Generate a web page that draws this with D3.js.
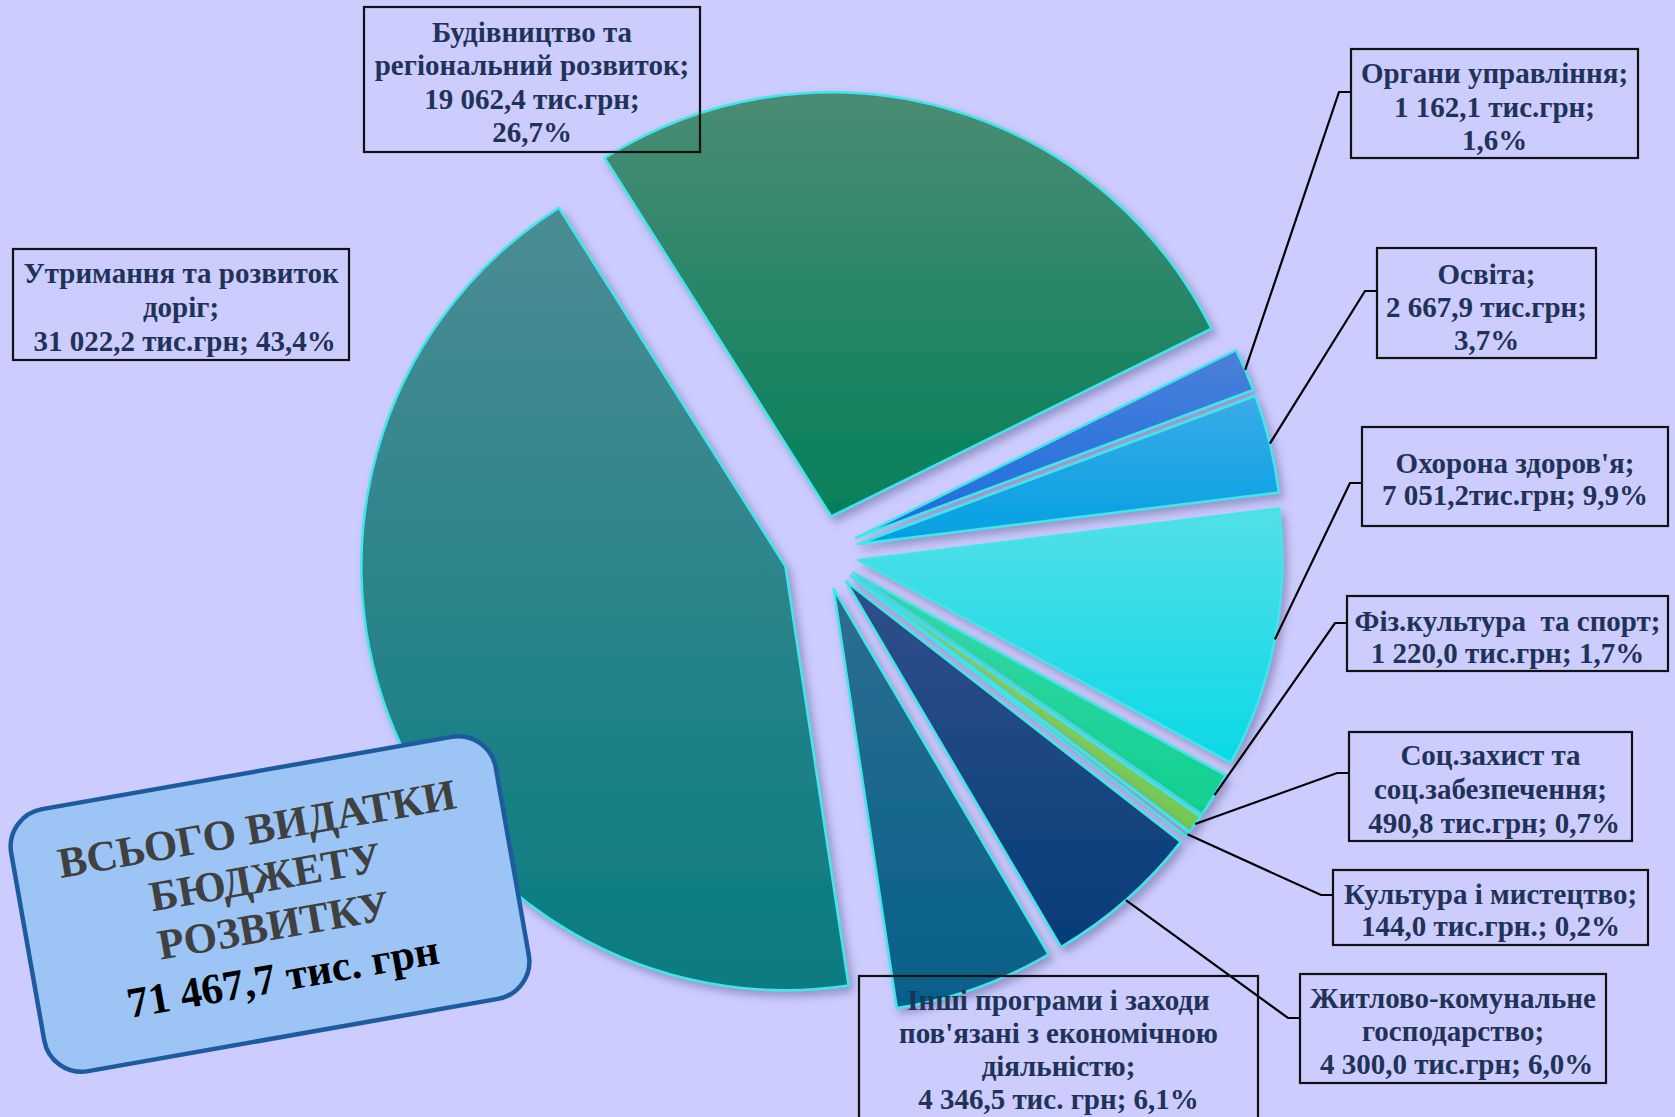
<!DOCTYPE html>
<html><head><meta charset="utf-8">
<script src="https://cdn.jsdelivr.net/npm/d3@7"></script>
<style>
html,body{margin:0;padding:0;background:#ccccfe;overflow:hidden;}
svg{display:block;}
text{white-space:pre;}
</style></head><body>
<svg id="chart" width="1675" height="1117"></svg>
<script>
// ---------- DATA ----------
const categories = [
  "Будівництво та регіональний розвиток",
  "Органи управління",
  "Освіта",
  "Охорона здоров'я",
  "Фіз.культура та спорт",
  "Соц.захист та соц.забезпечення",
  "Культура і мистецтво",
  "Житлово-комунальне господарство",
  "Інші програми і заходи пов'язані з економічною діяльністю",
  "Утримання та розвиток доріг"
];
const values = [19062.4, 1162.1, 2667.9, 7051.2, 1220.0, 490.8, 144.0, 4300.0, 4346.5, 31022.2];
const labelLines = [
  ["Будівництво та", "регіональний розвиток;", "19 062,4 тис.грн;", "26,7%"],
  ["Органи управління;", "1 162,1 тис.грн;", "1,6%"],
  ["Освіта;", "2 667,9 тис.грн;", "3,7%"],
  ["Охорона здоров'я;", "7 051,2тис.грн; 9,9%"],
  ["Фіз.культура  та спорт;", "1 220,0 тис.грн; 1,7%"],
  ["Соц.захист та", "соц.забезпечення;", " 490,8 тис.грн; 0,7%"],
  ["Культура і мистецтво;", "144,0 тис.грн.; 0,2%"],
  ["Житлово-комунальне", "господарство;", " 4 300,0 тис.грн; 6,0%"],
  ["Інші програми і заходи", "пов'язані з економічною", "діяльністю;", "4 346,5 тис. грн; 6,1%"],
  ["Утримання та розвиток", "доріг;", " 31 022,2 тис.грн; 43,4%"]
];
const hasLeader = [false, true, true, true, true, true, true, true, false, false];
const totalTitle = ["ВСЬОГО ВИДАТКИ", "БЮДЖЕТУ", "РОЗВИТКУ"];
const totalValue = "71 467,7 тис. грн";

// ---------- STYLE / LAYOUT ----------
const sliceColors = [
  ["#4a8c74", "#04805a"],
  ["#4a80d8", "#1a6fe0"],
  ["#3aabe8", "#02a0e2"],
  ["#52dfe6", "#0cd8e8"],
  ["#3ad8a8", "#10d090"],
  ["#92d070", "#74c850"],
  ["#a8a8c8", "#9a9ab8"],
  ["#31508a", "#043c78"],
  ["#2e6e90", "#05608a"],
  ["#4c8c94", "#087c80"]
];
// label boxes: [x0, y0, x1, y1, firstLineMidY, lineStep, leaderElbowY]
const boxes = [
  [364, 7, 700, 152, 32, 33.5, null],
  [1351, 49, 1638, 158, 73.5, 33.5, 92],
  [1377, 248, 1596, 358, 274, 33, 291],
  [1362, 427, 1668, 526, 463, 32, 483],
  [1347, 596, 1668, 671, 621, 32, 623],
  [1349, 732, 1632, 841, 755, 34, 773],
  [1333, 870, 1648, 945, 894, 32.5, 895],
  [1300, 974, 1606, 1083, 998, 33, 1018],
  [859, 976, 1258, 1140, 1000, 33, null],
  [13, 249, 349, 360, 273, 34, null]
];
const W = 1675, H = 1117;
const cx = 821, cy = 553, R = 424, explode = 38, startDeg = -32.3;
const labelFont = 29;
const textColor = "#1f3357";

// ---------- DRAW ----------
const svg = d3.select("#chart");
svg.append("rect").attr("width", W).attr("height", H).attr("fill", "#ccccfe");

const defs = svg.append("defs");
const filter = defs.append("filter").attr("id", "shadow")
  .attr("x", "-20%").attr("y", "-20%").attr("width", "140%").attr("height", "140%");
filter.append("feDropShadow").attr("dx", 4).attr("dy", 5).attr("stdDeviation", 4)
  .attr("flood-color", "#5a5a90").attr("flood-opacity", 0.5);

sliceColors.forEach((c, i) => {
  const g = defs.append("linearGradient").attr("id", "g" + i)
    .attr("x1", 0).attr("y1", 0).attr("x2", 0).attr("y2", 1);
  g.append("stop").attr("offset", "0%").attr("stop-color", c[0]);
  g.append("stop").attr("offset", "100%").attr("stop-color", c[1]);
});

const a0 = startDeg * Math.PI / 180;
const pie = d3.pie().sort(null).value(d => d).startAngle(a0).endAngle(a0 + 2 * Math.PI);
const arcs = pie(values);
const arc = d3.arc().innerRadius(0).outerRadius(R);
const rim = d3.arc().innerRadius(R).outerRadius(R);
const off = d => {
  const m = (d.startAngle + d.endAngle) / 2;
  return [explode * Math.sin(m), -explode * Math.cos(m)];
};

const gPie = svg.append("g").attr("transform", `translate(${cx},${cy})`);
gPie.selectAll("path").data(arcs).join("path")
  .attr("transform", d => { const o = off(d); return `translate(${o[0]},${o[1]})`; })
  .attr("d", arc)
  .attr("fill", (d, i) => `url(#g${i})`)
  .attr("stroke", "#3fe6ea").attr("stroke-width", 2.5)
  .attr("stroke-linejoin", "round")
  .attr("filter", "url(#shadow)");

// leader lines
const gLead = svg.append("g");
arcs.forEach((d, i) => {
  if (!hasLeader[i]) return;
  const o = off(d), c = rim.centroid(d);
  const sx = cx + o[0] + c[0], sy = cy + o[1] + c[1];
  const b = boxes[i];
  gLead.append("polyline")
    .attr("points", `${sx},${sy} ${b[0] - 12},${b[6]} ${b[0]},${b[6]}`)
    .attr("fill", "none").attr("stroke", "#000").attr("stroke-width", 2.2);
});

// label boxes
const gLab = svg.append("g");
labelLines.forEach((lines, i) => {
  const b = boxes[i];
  gLab.append("rect").attr("x", b[0]).attr("y", b[1])
    .attr("width", b[2] - b[0]).attr("height", b[3] - b[1])
    .attr("fill", "none").attr("stroke", "#111").attr("stroke-width", 2.2);
  const t = gLab.append("text")
    .attr("font-family", "'Liberation Serif','Times New Roman',serif")
    .attr("font-weight", "bold").attr("font-size", labelFont)
    .attr("fill", textColor).attr("text-anchor", "middle");
  lines.forEach((ln, k) => {
    t.append("tspan").attr("x", (b[0] + b[2]) / 2)
      .attr("y", b[4] + k * b[5] + labelFont * 0.33).text(ln);
  });
});

// total box
const gT = svg.append("g").attr("transform", "translate(270,904) rotate(-10)");
gT.append("rect").attr("x", -246).attr("y", -133).attr("width", 492).attr("height", 266)
  .attr("rx", 38).attr("ry", 38)
  .attr("fill", "#9cc5f5").attr("stroke", "#1e5aa0").attr("stroke-width", 4.5);
const tt = gT.append("text")
  .attr("font-family", "'Liberation Serif','Times New Roman',serif")
  .attr("font-weight", "bold").attr("font-size", 43).attr("text-anchor", "middle");
const ty = [-76, -27, 22, 74];
totalTitle.forEach((ln, k) => {
  tt.append("tspan").attr("x", 0).attr("y", ty[k] + 14).attr("fill", "#404040").text(ln);
});
tt.append("tspan").attr("x", 0).attr("y", ty[3] + 14).attr("fill", "#000").text(totalValue);
</script>
</body></html>
